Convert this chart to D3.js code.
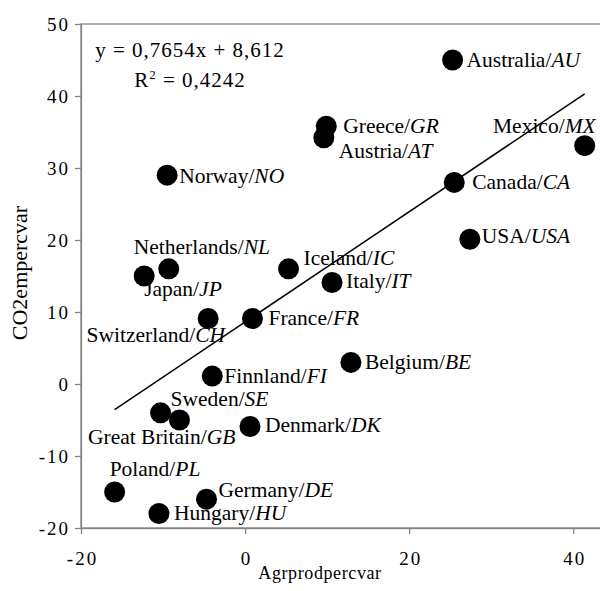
<!DOCTYPE html>
<html>
<head>
<meta charset="utf-8">
<script src="https://cdn.jsdelivr.net/npm/d3@7"></script>
<style>
  body { margin: 0; background: #fff; }
  svg text { font-family: "Liberation Serif", "Times New Roman", serif; fill: #000; }
</style>
</head>
<body>
<div id="chart"></div>
<script>
// data
var countries = ["Australia", "Greece", "Austria", "Mexico", "Canada", "Norway", "Netherlands", "Japan",
                 "Iceland", "Italy", "USA", "Switzerland", "France", "Finnland", "Belgium", "Sweden",
                 "Great Britain", "Denmark", "Poland", "Germany", "Hungary"];
var codes = ["AU", "GR", "AT", "MX", "CA", "NO", "NL", "JP", "IC", "IT", "USA", "CH", "FR", "FI", "BE", "SE",
             "GB", "DK", "PL", "DE", "HU"];
var agrprod = [25.3, 9.9, 9.6, 41.4, 25.5, -9.5, -9.3, -12.3, 5.3, 10.6, 27.4, -4.5, 0.9, -4.0, 12.9, -10.3,
               -8.0, 0.6, -15.9, -4.7, -10.5];
var co2 = [45.0, 35.8, 34.2, 33.1, 28.0, 29.0, 16.0, 15.0, 16.0, 14.1, 20.1, 9.1, 9.1, 1.1, 3.0, -4.0,
           -5.0, -5.9, -15.0, -16.0, -18.0];
var xTicks = [-20, 0, 20, 40];
var yTicks = [-20, -10, 0, 10, 20, 30, 40, 50];
var slope = 0.7654, intercept = 8.612;
var eqText = "y = 0,7654x + 8,612";
var r2Text = "0,4242";

// where each label sits relative to its dot (dx, dy, anchor)
var labelPlace = {
  "AU": [14, 7, "start"], "GR": [17, 7, "start"], "AT": [15, 20, "start"], "MX": [11, -13, "end"],
  "CA": [18, 7, "start"], "NO": [12, 8, "start"], "NL": [-35, -15, "start"], "JP": [0, 20, "start"],
  "IC": [15, -4, "start"], "IT": [14, 6, "start"], "USA": [12, 4, "start"], "CH": [17, 24, "end"],
  "FR": [16, 7, "start"], "FI": [12, 7, "start"], "BE": [14, 7, "start"], "SE": [10, -7, "start"],
  "GB": [56, 24, "end"], "DK": [15, 6, "start"], "PL": [-5, -16, "start"], "DE": [12, -2, "start"],
  "HU": [15, 6, "start"]
};

var W = 600, H = 591;
var pLeft = 81, pTop = 24, pBottom = 528, pRight = 606;

var svg = d3.select("#chart").append("svg").attr("width", W).attr("height", H);

var x = d3.scaleLinear().domain([-20, 44]).range([pLeft, pRight]);
var y = d3.scaleLinear().domain([-20, 50]).range([pBottom, pTop]);

var axisColor = "#868686";
var fmt = function (d) { return String(d); };  // plain hyphen minus like the original

// frame (right side falls outside the picture)
svg.append("rect")
  .attr("x", pLeft).attr("y", pTop)
  .attr("width", pRight - pLeft).attr("height", pBottom - pTop)
  .attr("fill", "none").attr("stroke", axisColor).attr("stroke-width", 1.3);

var xAxis = svg.append("g")
  .attr("transform", "translate(0," + pBottom + ")")
  .call(d3.axisBottom(x).tickValues(xTicks).tickFormat(fmt).tickSize(6).tickSizeOuter(0));
xAxis.select(".domain").attr("stroke", axisColor).attr("stroke-width", 1.3);
xAxis.selectAll(".tick line").attr("stroke", axisColor).attr("stroke-width", 1.3);
xAxis.selectAll(".tick text")
  .attr("y", 37).attr("dy", 0)
  .style("font-size", "19px").style("letter-spacing", "2px")
  .style("font-family", "Liberation Serif, serif").attr("fill", "#000")
  .attr("dx", "1px");

var yAxis = svg.append("g")
  .attr("transform", "translate(" + pLeft + ",0)")
  .call(d3.axisLeft(y).tickValues(yTicks).tickFormat(fmt).tickSize(6).tickSizeOuter(0));
yAxis.select(".domain").attr("stroke", axisColor).attr("stroke-width", 1.3);
yAxis.selectAll(".tick line").attr("stroke", axisColor).attr("stroke-width", 1.3);
yAxis.selectAll(".tick text")
  .attr("x", -11).attr("dy", "0.34em")
  .style("font-size", "19px").style("letter-spacing", "2px")
  .style("font-family", "Liberation Serif, serif").attr("fill", "#000");

// axis titles
svg.append("text")
  .attr("x", 320).attr("y", 579)
  .attr("text-anchor", "middle")
  .style("font-size", "18px").style("letter-spacing", "0.6px")
  .text("Agrprodpercvar");

svg.append("text")
  .attr("transform", "translate(27,273) rotate(-90)")
  .attr("text-anchor", "middle")
  .style("font-size", "22px")
  .text("CO2empercvar");

// trend line over the range of the data
var xMin = d3.min(agrprod), xMax = d3.max(agrprod);
svg.append("line")
  .attr("x1", x(xMin)).attr("y1", y(slope * xMin + intercept))
  .attr("x2", x(xMax)).attr("y2", y(slope * xMax + intercept))
  .attr("stroke", "#000").attr("stroke-width", 1.5);

// dots
var idx = d3.range(countries.length);
svg.selectAll("circle.pt")
  .data(idx)
  .enter().append("circle")
  .attr("class", "pt")
  .attr("cx", function (i) { return x(agrprod[i]); })
  .attr("cy", function (i) { return y(co2[i]); })
  .attr("r", 10.5)
  .attr("fill", "#000");

// labels
var lab = svg.selectAll("text.lab")
  .data(idx)
  .enter().append("text")
  .attr("class", "lab")
  .attr("x", function (i) { return x(agrprod[i]) + labelPlace[codes[i]][0]; })
  .attr("y", function (i) { return y(co2[i]) + labelPlace[codes[i]][1]; })
  .attr("text-anchor", function (i) { return labelPlace[codes[i]][2]; })
  .style("font-size", "21.5px");
lab.append("tspan").text(function (i) { return countries[i] + "/"; });
lab.append("tspan").style("font-style", "italic").text(function (i) { return codes[i]; });

// regression text
var eq = svg.append("g").style("font-size", "21px").style("letter-spacing", "1px");
eq.append("text").attr("x", 190).attr("y", 57).attr("text-anchor", "middle").text(eqText);
var r2 = eq.append("text").attr("x", 190).attr("y", 87).attr("text-anchor", "middle");
r2.append("tspan").text("R");
r2.append("tspan").attr("dy", -8).style("font-size", "13px").text("2");
r2.append("tspan").attr("dy", 8).text(" = " + r2Text);
</script>
</body>
</html>
